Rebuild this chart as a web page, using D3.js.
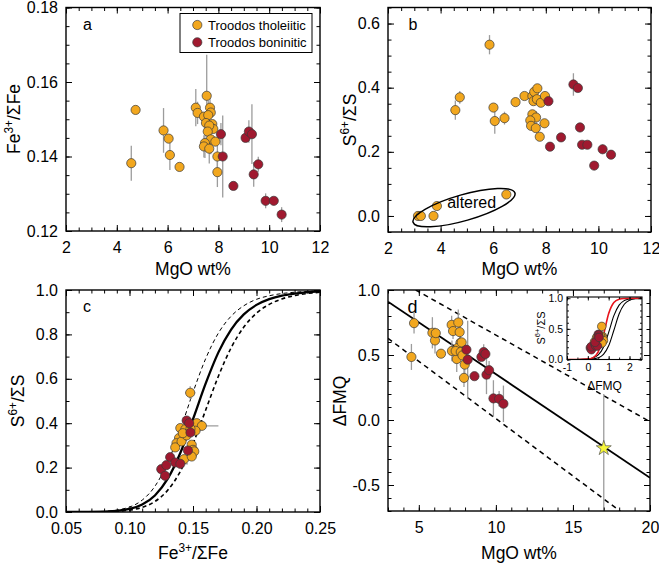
<!DOCTYPE html>
<html><head><meta charset="utf-8">
<script src="https://cdn.jsdelivr.net/npm/d3@7"></script>
<style>
body{margin:0;background:#fff;}
svg{display:block;}
</style></head><body>
<svg id="chart" width="659" height="563"></svg>
<script>
// ---------------- DATA ----------------
// Panel a: [MgO wt%, Fe3+/ΣFe, error]
const tholA = [
  [4.57,0.1382,0.0047],[4.74,0.1525,0],[5.84,0.1470,0.006],[6.04,0.1448,0],[6.09,0.1404,0.004],
  [6.47,0.1372,0],[7.11,0.1531,0.005],[7.18,0.1517,0.003],[7.43,0.1507,0],[7.54,0.1563,0.011],
  [7.67,0.1531,0.003],[7.70,0.1518,0],[7.60,0.1511,0.004],[7.51,0.1490,0],[7.76,0.1487,0],
  [7.80,0.1474,0],[7.64,0.1483,0],[7.58,0.1467,0.005],[7.70,0.1446,0.004],[7.88,0.1440,0],
  [7.47,0.1436,0.004],[7.43,0.1427,0.003],[7.64,0.1421,0.004],[7.96,0.1400,0.003],[7.96,0.1358,0.004]
];
const bonA = [
  [8.10,0.1460,0.003],[8.17,0.1400,0.011],[8.59,0.1321,0],[9.07,0.1450,0],[9.20,0.1467,0.003],
  [9.32,0.1460,0.008],[9.39,0.1352,0.0033],[9.57,0.1379,0.002],[9.86,0.1281,0.002],[10.18,0.1281,0],
  [10.49,0.1244,0.002]
];
// Panel b: [MgO wt%, S6+/ΣS, error]
const tholB = [
  [5.86,0.534,0.03],[4.56,0.330,0.03],[4.73,0.370,0.02],[6.01,0.338,0],[6.06,0.296,0.04],
  [6.43,0.305,0.02],[6.85,0.355,0],[7.19,0.374,0],[7.49,0.374,0],[7.56,0.387,0],
  [7.68,0.398,0.01],[7.53,0.358,0],[7.66,0.364,0],[7.81,0.353,0],[7.97,0.374,0],
  [7.49,0.317,0],[7.63,0.307,0.02],[7.41,0.298,0],[7.44,0.281,0],[7.62,0.274,0],
  [7.95,0.289,0],[7.77,0.247,0]
];
const alteredB = [[3.14,0.0,0],[3.25,0.0,0],[3.73,0.0,0],[3.86,0.031,0],[6.50,0.067,0]];
const bonB = [
  [8.10,0.358,0],[8.16,0.216,0],[8.58,0.245,0],[9.05,0.410,0.035],[9.22,0.399,0],
  [9.30,0.276,0.015],[9.38,0.222,0],[9.58,0.222,0],[9.84,0.157,0],[10.16,0.208,0.015],
  [10.48,0.191,0]
];
// Panel c: [Fe3+/ΣFe, S6+/ΣS, xerr, yerr]
const tholC = [
  [0.1478,0.537,0.004,0.03],[0.140,0.378,0,0],[0.144,0.373,0,0],[0.153,0.400,0,0],
  [0.157,0.388,0.013,0],[0.152,0.366,0.004,0],[0.139,0.333,0,0],[0.137,0.310,0,0],
  [0.136,0.291,0,0],[0.141,0.318,0,0],[0.149,0.303,0,0],[0.150,0.280,0.004,0],
  [0.151,0.273,0,0],[0.143,0.238,0.004,0],[0.149,0.250,0.004,0],[0.145,0.345,0,0],
  [0.142,0.355,0,0],[0.148,0.375,0,0]
];
const bonC = [
  [0.145,0.412,0,0.02],[0.147,0.400,0,0],[0.148,0.358,0,0],[0.146,0.277,0.003,0],
  [0.132,0.247,0,0],[0.136,0.223,0,0],[0.140,0.217,0.006,0],[0.125,0.193,0,0],
  [0.129,0.211,0,0],[0.128,0.163,0,0]
];
// Panel c model curves
const curveFe      = [0.05,0.08,0.10,0.11,0.12,0.13,0.14,0.15,0.16,0.17,0.18,0.19,0.20,0.21,0.22,0.23,0.25];
const curveSolid   = [0.0000,0.0018,0.0139,0.0337,0.0745,0.149,0.266,0.418,0.579,0.719,0.822,0.890,0.933,0.959,0.975,0.984,0.994];
const curveDashL   = [0.0000,0.0029,0.0224,0.0536,0.1156,0.2215,0.3706,0.539,0.691,0.806,0.882,0.929,0.958,0.974,0.984,0.990,0.996];
const curveDashR   = [0.0000,0.0011,0.0086,0.0210,0.0473,0.0974,0.1826,0.3073,0.4593,0.6118,0.7394,0.833,0.8955,0.9352,0.9598,0.9749,0.9900];
// Panel d: [MgO wt%, ΔFMQ, error]
const tholD = [
  [4.69,0.745,0.08],[4.52,0.485,0.1],[5.88,0.671,0.12],[6.05,0.612,0.1],[6.10,0.668,0],
  [6.44,0.510,0],[7.13,0.732,0.07],[7.22,0.684,0.06],[7.15,0.531,0.08],[7.46,0.469,0.1],
  [7.56,0.750,0.1],[7.65,0.676,0.08],[7.70,0.594,0.1],[7.52,0.554,0],[7.39,0.531,0],
  [7.72,0.523,0],[7.78,0.597,0],[7.98,0.426,0.1],[7.93,0.324,0.07],[7.83,0.497,0]
];
const bonD = [
  [8.09,0.541,0],[8.17,0.464,0.3],[8.61,0.337,0],[9.06,0.485,0],[9.21,0.523,0.06],
  [9.32,0.508,0],[9.39,0.349,0.15],[9.56,0.383,0.07],[9.84,0.166,0.14],[10.21,0.163,0.06],
  [10.49,0.125,0.14]
];
const starD = [[17.0,-0.217,-0.70,0.20]]; // [MgO, ΔFMQ, low, high]
const fitLine   = [[3,0.91],[20,-0.444]];
const upperBand = [[4.8,1.0],[20,-0.013]];
const lowerBand = [[3,0.628],[18.5,-0.74]];
// Inset: [ΔFMQ, S6+/ΣS]
const insetThol = [[0.67,0.54],[0.50,0.37],[0.55,0.33],[0.60,0.30],[0.45,0.28],[0.70,0.38],[0.72,0.35],
  [0.53,0.25],[0.60,0.39],[0.45,0.35],[0.75,0.31],[0.68,0.27],[0.32,0.29],[0.42,0.36]];
const insetBon = [[0.12,0.19],[0.17,0.16],[0.16,0.21],[0.34,0.25],[0.38,0.22],[0.46,0.22],[0.50,0.41],
  [0.52,0.40],[0.48,0.36],[0.35,0.28],[0.54,0.36]];
const insetFMQ    = [-1,-0.5,0,0.25,0.5,0.75,1.0,1.25,1.5,1.75,2.0,2.3,2.6];
const insetBlack1 = [0.0001,0.0008,0.0079,0.0245,0.0736,0.2008,0.4427,0.7153,0.888,0.9617,0.9876,0.9968,0.9992];
const insetBlack2 = [0.0000,0.0003,0.0029,0.0090,0.0278,0.0836,0.2239,0.477,0.7426,0.901,0.9665,0.9914,0.9978];
const insetRed    = [0.0000,0.0003,0.0067,0.030,0.124,0.395,0.750,0.932,0.984,0.9966,0.9993,1.0,1.0];
// tick labels
const ticksMgO_ab = [2,4,6,8,10,12];
const ticksFe_a   = [0.12,0.14,0.16,0.18];
const ticksS_b    = [0.0,0.2,0.4,0.6];
const ticksFe_c   = [0.05,0.10,0.15,0.20,0.25];
const ticksS_c    = [0.0,0.2,0.4,0.6,0.8,1.0];
const ticksMgO_d  = [5,10,15,20];
const ticksFMQ_d  = [-0.5,0.0,0.5,1.0];
const ticksInsetX = [-1,0,1,2];
const ticksInsetY = [0.0,0.5,1.0];
const legendItems = ["Troodos tholeiitic","Troodos boninitic"];

// ---------------- DRAWING ----------------
const FONT = '"Liberation Sans", Arial, Helvetica, sans-serif';
const TH = "#F2A71E", BO = "#A0192F", ERR = "#9c9c9c", OUT = "#3a3a3a";
const svg = d3.select("#chart").attr("font-family", FONT);
const defs = svg.append("defs");
const fmt = p => d => (d < 0 ? "-" : "") + d3.format(p)(Math.abs(d));

function minorTicks(dom, step) {
  const lo = Math.min(...dom), hi = Math.max(...dom), out = [];
  for (let i = Math.ceil(lo/step - 1e-6); i <= Math.floor(hi/step + 1e-6); i++) out.push(+(i*step).toFixed(6));
  return out;
}

function panel(o) {
  const x = d3.scaleLinear().domain(o.xd).range(o.xr);
  const y = d3.scaleLinear().domain(o.yd).range(o.yr);
  const L = o.xr[0], R = o.xr[1], B = o.yr[0], T = o.yr[1];
  const root = svg.append("g");
  if (o.bg) root.append("rect").attr("x", L).attr("y", T).attr("width", R-L).attr("height", B-T).attr("fill", "#fff");
  defs.append("clipPath").attr("id", "clip" + o.id).append("rect")
    .attr("x", L).attr("y", T).attr("width", R-L).attr("height", B-T);
  const clipped = root.append("g").attr("clip-path", `url(#clip${o.id})`);
  const content = root.append("g");
  const axes = root.append("g");
  const st = sel => {
    sel.select(".domain").remove();
    sel.attr("font-family", FONT).attr("font-size", o.fs);
    sel.selectAll("line").attr("stroke", "#000").attr("stroke-width", o.tw);
    sel.selectAll("text").attr("fill", "#000");
  };
  const xm = minorTicks(o.xd, o.xs), ym = minorTicks(o.yd, o.ys);
  axes.append("g").attr("transform", `translate(0,${B})`).call(d3.axisBottom(x).tickValues(xm).tickSize(-o.mn).tickFormat("")).call(st);
  axes.append("g").attr("transform", `translate(0,${B})`).call(d3.axisBottom(x).tickValues(o.xt).tickSize(-o.mj).tickPadding(o.px).tickFormat(o.xf)).call(st);
  axes.append("g").attr("transform", `translate(0,${T})`).call(d3.axisTop(x).tickValues(xm).tickSize(-o.mn).tickFormat("")).call(st);
  axes.append("g").attr("transform", `translate(0,${T})`).call(d3.axisTop(x).tickValues(o.xt).tickSize(-o.mj).tickFormat("")).call(st);
  axes.append("g").attr("transform", `translate(${L},0)`).call(d3.axisLeft(y).tickValues(ym).tickSize(-o.mn).tickFormat("")).call(st);
  axes.append("g").attr("transform", `translate(${L},0)`).call(d3.axisLeft(y).tickValues(o.yt).tickSize(-o.mj).tickPadding(o.py).tickFormat(o.yf)).call(st);
  axes.append("g").attr("transform", `translate(${R},0)`).call(d3.axisRight(y).tickValues(ym).tickSize(-o.mn).tickFormat("")).call(st);
  axes.append("g").attr("transform", `translate(${R},0)`).call(d3.axisRight(y).tickValues(o.yt).tickSize(-o.mj).tickFormat("")).call(st);
  axes.append("rect").attr("x", L).attr("y", T).attr("width", R-L).attr("height", B-T)
    .attr("fill", "none").attr("stroke", "#000").attr("stroke-width", o.fw);
  return {x, y, g: content, clip: clipped, axes};
}

function vErr(P, data, xi, yi, ei, w) {
  P.g.append("g").selectAll("line").data(data.filter(d => d[ei] > 0)).join("line")
    .attr("x1", d => P.x(d[xi])).attr("x2", d => P.x(d[xi]))
    .attr("y1", d => P.y(d[yi] - d[ei])).attr("y2", d => P.y(d[yi] + d[ei]))
    .attr("stroke", ERR).attr("stroke-width", w || 1.3);
}
function hErr(P, data, xi, yi, ei) {
  P.g.append("g").selectAll("line").data(data.filter(d => d[ei] > 0)).join("line")
    .attr("y1", d => P.y(d[yi])).attr("y2", d => P.y(d[yi]))
    .attr("x1", d => P.x(d[xi] - d[ei])).attr("x2", d => P.x(d[xi] + d[ei]))
    .attr("stroke", ERR).attr("stroke-width", 1.3);
}
function dots(P, data, xi, yi, fill, r) {
  P.g.append("g").selectAll("circle").data(data).join("circle")
    .attr("cx", d => P.x(d[xi])).attr("cy", d => P.y(d[yi])).attr("r", r || 4.6)
    .attr("fill", fill).attr("stroke", OUT).attr("stroke-width", 0.7);
}
function pathLine(P, pts, opt) {
  const line = d3.line().x(d => P.x(d[0])).y(d => P.y(d[1])).curve(opt.curve || d3.curveLinear);
  P.clip.append("path").attr("d", line(pts)).attr("fill", "none")
    .attr("stroke", opt.color || "#000").attr("stroke-width", opt.w || 1.5)
    .attr("stroke-dasharray", opt.dash || null);
}
function supText(parent, x, y, parts, size, anchor, rotate) {
  const t = parent.append("text").attr("font-size", size).attr("text-anchor", anchor || "middle").attr("fill", "#000");
  if (rotate) t.attr("transform", `translate(${x},${y}) rotate(-90)`); else t.attr("x", x).attr("y", y);
  let shift = 0;
  parts.forEach(p => {
    const ts = t.append("tspan").text(p[0]);
    const target = p[1] ? -size * 0.42 : 0;
    ts.attr("dy", target - shift);
    if (p[1]) ts.attr("font-size", size * 0.68);
    shift = target;
  });
  return t;
}
const FeLabel = [["Fe",0],["3+",1],["/ΣFe",0]];
const SLabel  = [["S",0],["6+",1],["/ΣS",0]];

// ----- Panel a -----
const PA = panel({id:"a", xd:[2,12], xr:[66,320], yd:[0.12,0.18], yr:[231,7.5],
  xt:ticksMgO_ab, yt:ticksFe_a, xs:0.5, ys:0.005, xf:fmt("d"), yf:fmt(".2f"),
  fs:16, mj:6, mn:3.5, px:11, py:8, tw:1, fw:1.4});
vErr(PA, tholA, 0, 1, 2); vErr(PA, bonA, 0, 1, 2);
dots(PA, tholA, 0, 1, TH); dots(PA, bonA, 0, 1, BO);
svg.append("text").attr("x", 83).attr("y", 30).attr("font-size", 16).text("a");
const lg = svg.append("g");
lg.append("rect").attr("x", 180).attr("y", 13.5).attr("width", 132).attr("height", 39)
  .attr("fill", "#fff").attr("stroke", "#000").attr("stroke-width", 1);
legendItems.forEach((t, i) => {
  lg.append("circle").attr("cx", 197.3).attr("cy", 25 + i*17.3).attr("r", 4.6)
    .attr("fill", i ? BO : TH).attr("stroke", OUT).attr("stroke-width", 0.7);
  lg.append("text").attr("x", 208).attr("y", 29.6 + i*17.3).attr("font-size", 13).text(t);
});
svg.append("text").attr("x", 193).attr("y", 275).attr("font-size", 17.5).attr("text-anchor", "middle").text("MgO wt%");
supText(svg, 20, 119, FeLabel, 17.5, "middle", true);

// ----- Panel b -----
const PB = panel({id:"b", xd:[2,12], xr:[388,651], yd:[-0.05,0.65], yr:[232,7.5],
  xt:ticksMgO_ab, yt:ticksS_b, xs:0.5, ys:0.05, xf:fmt("d"), yf:fmt(".1f"),
  fs:16, mj:6, mn:3.5, px:11, py:8, tw:1, fw:1.4});
vErr(PB, tholB, 0, 1, 2); vErr(PB, bonB, 0, 1, 2);
dots(PB, tholB, 0, 1, TH); dots(PB, alteredB, 0, 1, TH); dots(PB, bonB, 0, 1, BO);
const ellipseAltered = {cx: 4.89, cy: 0.026, rx: 53, ry: 13, angle: -16};
PB.g.append("ellipse").attr("cx", 0).attr("cy", 0).attr("rx", ellipseAltered.rx).attr("ry", ellipseAltered.ry)
  .attr("transform", `translate(${PB.x(ellipseAltered.cx)},${PB.y(ellipseAltered.cy)}) rotate(${ellipseAltered.angle})`)
  .attr("fill", "none").attr("stroke", "#000").attr("stroke-width", 1.5);
PB.g.append("text").attr("x", PB.x(5.18)).attr("y", PB.y(0.043) + 5.5).attr("font-size", 16)
  .attr("text-anchor", "middle").text("altered");
svg.append("text").attr("x", 408.5).attr("y", 30).attr("font-size", 16).text("b");
svg.append("text").attr("x", 519.5).attr("y", 275).attr("font-size", 17.5).attr("text-anchor", "middle").text("MgO wt%");
supText(svg, 356, 120, SLabel, 17.5, "middle", true);

// ----- Panel c -----
const PC = panel({id:"c", xd:[0.05,0.25], xr:[66,320], yd:[0,1], yr:[512,290],
  xt:ticksFe_c, yt:ticksS_c, xs:0.01, ys:0.1, xf:fmt(".2f"), yf:fmt(".1f"),
  fs:16, mj:6, mn:3.5, px:11, py:8, tw:1, fw:1.4});
pathLine(PC, curveFe.map((f, i) => [f, curveDashL[i]]), {w:1, dash:"4,3", curve:d3.curveMonotoneX});
pathLine(PC, curveFe.map((f, i) => [f, curveDashR[i]]), {w:1.6, dash:"4,3", curve:d3.curveMonotoneX});
pathLine(PC, curveFe.map((f, i) => [f, curveSolid[i]]), {w:2.3, curve:d3.curveMonotoneX});
vErr(PC, tholC, 0, 1, 3); vErr(PC, bonC, 0, 1, 3);
hErr(PC, tholC, 0, 1, 2); hErr(PC, bonC, 0, 1, 2);
dots(PC, tholC, 0, 1, TH); dots(PC, bonC, 0, 1, BO);
svg.append("text").attr("x", 83).attr("y", 312).attr("font-size", 16).text("c");
supText(svg, 193, 559, FeLabel, 17.5, "middle", false);
supText(svg, 24, 401, SLabel, 17.5, "middle", true);

// ----- Panel d -----
const PD = panel({id:"d", xd:[3,20], xr:[388,650], yd:[-0.7,1.0], yr:[511,290],
  xt:ticksMgO_d, yt:ticksFMQ_d, xs:1, ys:0.1, xf:fmt("d"), yf:fmt(".1f"),
  fs:16, mj:6, mn:3.5, px:11, py:8, tw:1, fw:1.4});
pathLine(PD, upperBand, {w:1.5, dash:"5,4"});
pathLine(PD, lowerBand, {w:1.5, dash:"5,4"});
pathLine(PD, fitLine, {w:1.8});
vErr(PD, tholD, 0, 1, 2); vErr(PD, bonD, 0, 1, 2);
PD.clip.append("g").selectAll("line").data(starD).join("line")
  .attr("x1", d => PD.x(d[0])).attr("x2", d => PD.x(d[0]))
  .attr("y1", d => PD.y(d[2])).attr("y2", d => PD.y(d[3]))
  .attr("stroke", ERR).attr("stroke-width", 1.3);
dots(PD, tholD, 0, 1, TH); dots(PD, bonD, 0, 1, BO);
PD.g.append("g").selectAll("path").data(starD).join("path")
  .attr("d", d3.symbol(d3.symbolStar, 70)())
  .attr("transform", d => `translate(${PD.x(d[0])},${PD.y(d[1])})`)
  .attr("fill", "#F6F63A").attr("stroke", "#555").attr("stroke-width", 0.7);
svg.append("text").attr("x", 407.5).attr("y", 313).attr("font-size", 18).text("d");
svg.append("text").attr("x", 519).attr("y", 559).attr("font-size", 17.5).attr("text-anchor", "middle").text("MgO wt%");
svg.append("text").attr("transform", "translate(346,401) rotate(-90)").attr("font-size", 17.5)
  .attr("text-anchor", "middle").text("ΔFMQ");

// ----- Inset -----
const PI = panel({id:"i", bg:true, xd:[-1,2.6], xr:[567,642], yd:[0,1.02], yr:[359.5,297],
  xt:ticksInsetX, yt:ticksInsetY, xs:0.5, ys:0.1, xf:fmt("d"), yf:fmt(".1f"),
  fs:10.5, mj:3.5, mn:2, px:4, py:4, tw:0.9, fw:1.1});
pathLine(PI, insetFMQ.map((v, i) => [v, insetBlack2[i]]), {w:1.1, curve:d3.curveMonotoneX});
pathLine(PI, insetFMQ.map((v, i) => [v, insetBlack1[i]]), {w:1.1, curve:d3.curveMonotoneX});
dots(PI, insetThol, 0, 1, TH, 4.3); dots(PI, insetBon, 0, 1, BO, 4.3);
pathLine(PI, insetFMQ.map((v, i) => [v, insetRed[i]]), {w:1.6, color:"#E8141B", curve:d3.curveMonotoneX});
svg.append("text").attr("x", 604.5).attr("y", 390).attr("font-size", 12).attr("text-anchor", "middle").text("ΔFMQ");
supText(svg, 545, 328, SLabel, 11, "middle", true);
</script>
</body></html>
